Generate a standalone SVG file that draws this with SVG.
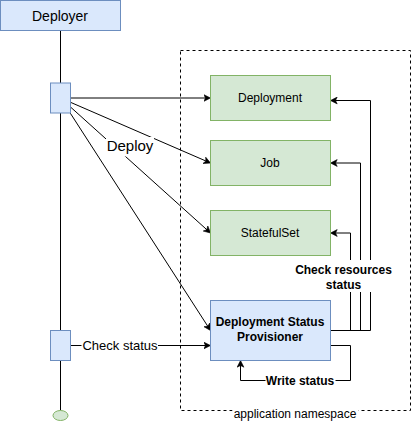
<svg xmlns="http://www.w3.org/2000/svg" width="411" height="431" viewBox="0 0 411 431">
<style>
.t{font-family:"Liberation Sans",Arial,Helvetica,sans-serif;fill:#000;text-anchor:middle}
.blue{fill:#dae8fc;stroke:#6c8ebf;stroke-width:1}
.green{fill:#d5e8d4;stroke:#82b366;stroke-width:1}
.ln{fill:none;stroke:#000;stroke-width:1}
.arr{fill:none;stroke:#000;stroke-width:1;marker-end:url(#ah)}
.bg{fill:#fff;stroke:none}
</style>
<defs>
<marker id="ah" markerUnits="userSpaceOnUse" viewBox="0 0 8 8" markerWidth="8" markerHeight="8" refX="3" refY="4" orient="auto">
<path d="M0.3,0.6 L7,4 L0.3,7.4 L2,4 Z" fill="#000" stroke="#000" stroke-width="0.6"/>
</marker>
</defs>
<g transform="translate(0.5,0.5)">
<g id="namespace">
<rect x="180" y="50" width="230" height="360" fill="none" stroke="#000" stroke-dasharray="3 3"/>
<rect class="bg" x="232" y="403" width="126" height="17"/>
<text class="t" x="294.5" y="417.5" font-size="12">application namespace</text>
</g>
<g id="lifeline">
<path class="ln" d="M60,30 L60,410"/>
</g>
<g id="end">
<ellipse cx="60" cy="415" rx="7.5" ry="5" class="green"/>
</g>
<g id="deployer">
<rect x="0" y="0" width="120" height="30" class="blue"/>
<text class="t" x="59.5" y="20" font-size="14">Deployer</text>
</g>
<g id="connectors">
<path class="arr" d="M70,97.5 L206,97.5"/>
<path class="arr" d="M70,101.8 L206.33,160.91"/>
<path class="arr" d="M70,106.5 L207.03,229.82"/>
<path class="arr" d="M69.7,112.5 L207.83,326.64"/>
<path class="arr" d="M70,345 L206,345"/>
<path class="arr" d="M330,330 L370,330 L370,100 L334,100"/>
<path class="arr" d="M330,330 L360,330 L360,162.5 L334,162.5"/>
<path class="arr" d="M330,330 L350,330 L350,232.5 L334,232.5"/>
<path class="arr" d="M330,345 L350,345 L350,380 L240,380 L240,364"/>
<rect class="bg" x="105.5" y="136.5" width="48" height="19.5"/>
<text class="t" x="129.5" y="150.5" font-size="15">Deploy</text>
<rect class="bg" x="81" y="337" width="76.5" height="16"/>
<text class="t" x="119.5" y="349.5" font-size="13">Check status</text>
<rect class="bg" x="294" y="259.5" width="99" height="32"/>
<text class="t" x="343" y="273" font-size="12" font-weight="bold">Check resources</text>
<text class="t" x="343" y="288" font-size="12" font-weight="bold">status</text>
<rect class="bg" x="265" y="372" width="70" height="16"/>
<text class="t" x="299.5" y="384" font-size="12" font-weight="bold">Write status</text>
</g>
<g id="activation1">
<rect x="50" y="82.5" width="20" height="30" class="blue"/>
</g>
<g id="activation2">
<rect x="50" y="330" width="20" height="30" class="blue"/>
</g>
<g id="deployment">
<rect x="210" y="75" width="120" height="45" class="green"/>
<text class="t" x="269.5" y="101.5" font-size="12">Deployment</text>
</g>
<g id="job">
<rect x="210" y="140" width="120" height="45" class="green"/>
<text class="t" x="269.5" y="166.5" font-size="12">Job</text>
</g>
<g id="statefulset">
<rect x="210" y="210" width="120" height="45" class="green"/>
<text class="t" x="269.5" y="236.5" font-size="12">StatefulSet</text>
</g>
<g id="provisioner">
<rect x="210" y="300" width="120" height="60" class="blue"/>
<text class="t" x="269.5" y="325.5" font-size="12" font-weight="bold">Deployment Status</text>
<text class="t" x="269.5" y="340" font-size="12" font-weight="bold">Provisioner</text>
</g>
</g>
</svg>
